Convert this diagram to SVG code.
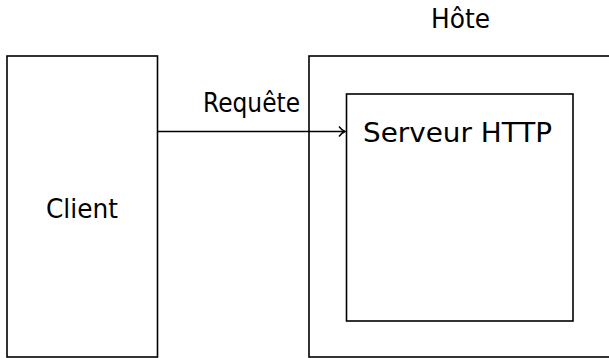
<svg xmlns="http://www.w3.org/2000/svg" width="609" height="358" viewBox="0 0 609 358">
  <style>
    .box { fill: none; stroke: #000; stroke-width: 1.6; }
    .lbl { font-family: "DejaVu Sans", "Liberation Sans", sans-serif; font-size: 26px; fill: #000; }
    .edge { fill: none; stroke: #000; stroke-width: 1.6; }
  </style>
  <defs>
    <marker id="tip" markerWidth="10" markerHeight="12" refX="8" refY="6" orient="auto" markerUnits="userSpaceOnUse">
      <path d="M2,1 Q5,5 8,6 Q5,7 2,11" fill="none" stroke="#000" stroke-width="1.4"/>
    </marker>
  </defs>

  <rect width="609" height="358" fill="#fff"/>

  <g id="client">
    <rect class="box" x="7" y="56" width="150.5" height="301"/>
    <text class="lbl" x="46" y="218" textLength="72" lengthAdjust="spacingAndGlyphs">Client</text>
  </g>

  <g id="hote">
    <rect class="box" x="309" y="56" width="320" height="301"/>
    <text class="lbl" x="431" y="28" textLength="59" lengthAdjust="spacingAndGlyphs">Hôte</text>
  </g>

  <g id="serveur">
    <rect class="box" x="346.5" y="94" width="226.5" height="227"/>
    <text class="lbl" x="363" y="142" textLength="189" lengthAdjust="spacingAndGlyphs">Serveur HTTP</text>
  </g>

  <g id="connectors">
    <line class="edge" x1="157.5" y1="131.5" x2="345" y2="131.5" marker-end="url(#tip)"/>
    <text class="lbl" x="203" y="112" textLength="97" lengthAdjust="spacingAndGlyphs">Requête</text>
  </g>
</svg>
